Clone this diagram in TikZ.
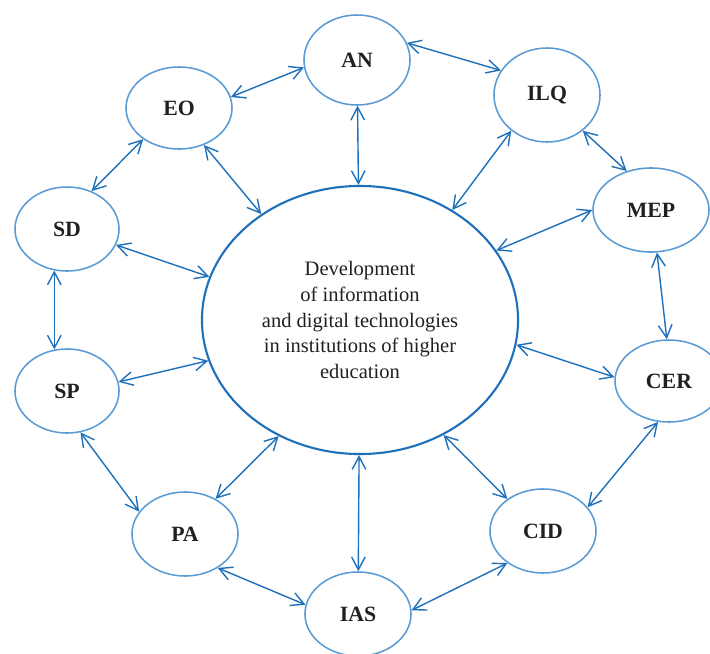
\documentclass[tikz,border=0pt]{standalone}
\usepackage{fontspec}
\setmainfont{Liberation Serif}
\usetikzlibrary{arrows.meta,shapes.geometric}

\definecolor{rimblue}{HTML}{5B9BD5}
\definecolor{linkblue}{HTML}{1F70BA}
\definecolor{inkgray}{HTML}{231F20}

\begin{document}
\begin{tikzpicture}[x=0.025cm,y=-0.025cm,
    >={Straight Barb[length=3.2mm,width=3.4mm]},
    factor/.style={ellipse,draw=rimblue,line width=1.1pt,inner sep=0pt,
        minimum width=2.65cm,minimum height=2.1cm,text=inkgray,
        font=\fontsize{15.5}{17}\selectfont\bfseries},
    core/.style={ellipse,draw=linkblue,line width=1.5pt,inner sep=0pt,
        minimum width=7.9cm,minimum height=6.7cm,text=inkgray,align=center,
        font=\fontsize{14.6}{18.3}\selectfont},
    link/.style={<->,draw=linkblue,line width=1pt}]
    \useasboundingbox (0,0) rectangle (710,653);
    % Centre
    \node[core] (dev) at (360,320) {Development\\of information\\and digital technologies\\in institutions of higher\\education};
    % Factors round the centre
    \node[factor,minimum height=2.25cm] (an) at (357,60) {AN};
    \node[factor,minimum height=2.05cm] (eo) at (179,108) {EO};
    \node[factor,minimum height=2.35cm] (ilq) at (547,95) {ILQ};
    \node[factor,minimum width=2.6cm] (sd) at (67,229) {SD};
    \node[factor,minimum width=2.9cm] (mep) at (651,210) {MEP};
    \node[factor,minimum width=2.6cm] (sp) at (67,391) {SP};
    \node[factor,minimum width=2.7cm,minimum height=2.05cm] (cer) at (669,381) {CER};
    \node[factor] (pa) at (185,534) {PA};
    \node[factor] (cid) at (543,531) {CID};
    \node[factor] (ias) at (358,614) {IAS};
    % Links on the ring
    \draw[link] (eo.12) -- (an.188);
    \draw[link] (an.19) -- (ilq.152);
    \draw[link] (eo.221) -- (sd.57);
    \draw[link] (ilq.315) -- (mep.122);
    \draw[link] (mep.278) -- (cer.93);
    \draw[link] (cer.255) -- (cid.28);
    \draw[link] (ias.4) -- (cid.222);
    \draw[link] (pa.314) -- (ias.170);
    \draw[link] (sp.288) -- (pa.154);
    \draw[link] (sd.253) -- (sp.107);
    % Links to the centre
    \draw[link] (eo.304) -- (dev.133);
    \draw[link] (an) -- (dev);
    \draw[link] (ilq.225) -- (dev.50);
    \draw[link] (mep.180) -- (dev.27);
    \draw[link] (dev.-9) -- (cer.176);
    \draw[link] (cid.138) -- (dev.-54);
    \draw[link] (dev) -- (ias);
    \draw[link] (pa.49) -- (dev.235);
    \draw[link] (sp.10) -- (dev.195);
    \draw[link] (sd.342) -- (dev.164);
\end{tikzpicture}
\end{document}
